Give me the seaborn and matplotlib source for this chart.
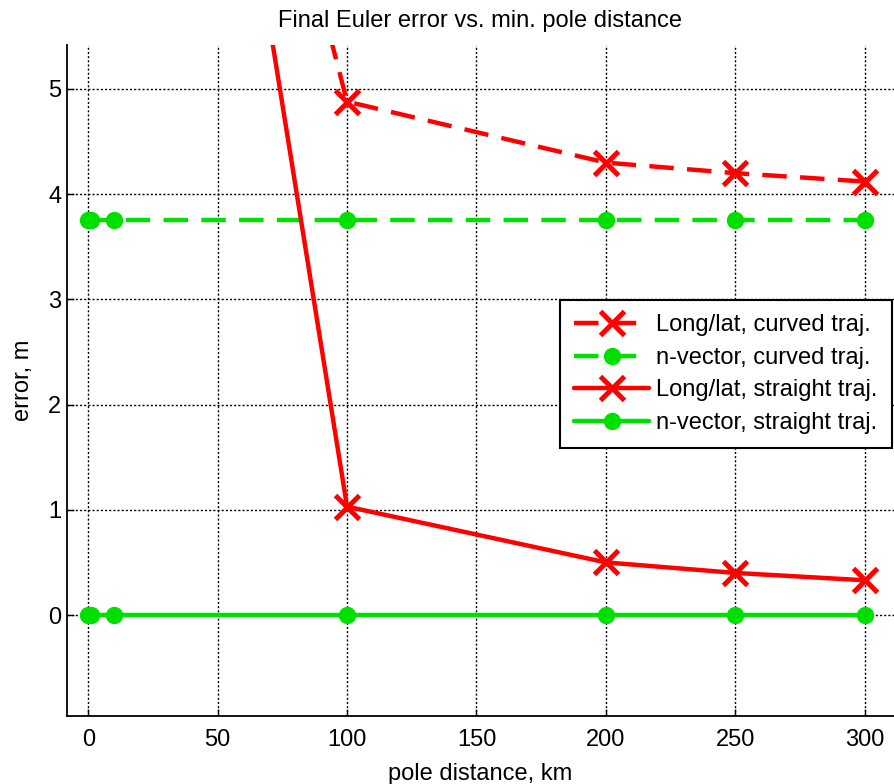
import numpy as np
import pandas as pd
import seaborn as sns
import matplotlib.pyplot as plt

# pole distance (km) and final error (m) for each run
dist = [0, 1, 10, 100, 200, 250, 300]
longlat_curved = [13.6, 13.5, 13.4, 4.88, 4.30, 4.20, 4.12]
nvec_curved = [3.75, 3.75, 3.75, 3.75, 3.75, 3.75, 3.75]
longlat_straight = [15.0, 14.9, 14.8, 1.03, 0.50, 0.40, 0.33]
nvec_straight = [0, 0, 0, 0, 0, 0, 0]

labels = [
    'Long/lat, curved traj.',
    'n-vector, curved traj.',
    'Long/lat, straight traj.',
    'n-vector, straight traj.',
]

red = '#ff0000'
green = '#00e000'
styles = {
    labels[0]: dict(color=red, linestyle=(0, (5.5, 3)), marker='x', markersize=17, markeredgewidth=3.6),
    labels[1]: dict(color=green, linestyle=(0, (5.5, 3)), marker='o', markersize=11.5, markeredgewidth=1),
    labels[2]: dict(color=red, linestyle='-', marker='x', markersize=17, markeredgewidth=3.6),
    labels[3]: dict(color=green, linestyle='-', marker='o', markersize=11.5, markeredgewidth=1),
}

df = pd.concat([
    pd.DataFrame({'pole distance, km': dist, 'error, m': vals, 'series': lab})
    for lab, vals in zip(labels, [longlat_curved, nvec_curved,
                                  longlat_straight, nvec_straight])
])

sns.set_style('white')
plt.rcParams['font.family'] = ['Liberation Sans', 'DejaVu Sans']
plt.rcParams['text.color'] = 'black'
plt.rcParams['axes.labelcolor'] = 'black'

fig = plt.figure(figsize=(8.94, 7.84), dpi=100)
ax = fig.add_axes([67 / 894, 1 - 716 / 784, 1 - 67 / 894, (716 - 45) / 784])

for lab in labels:
    st = styles[lab]
    sub = df[df['series'] == lab]
    sns.lineplot(
        data=sub, x='pole distance, km', y='error, m', ax=ax,
        label=lab, linewidth=3.2,
        markeredgecolor=st['color'], markerfacecolor=st['color'], **st,
    )

ax.set_xlim(-8.2, 311.3)
ax.set_ylim(-0.96, 5.418)
ax.set_xticks([0, 50, 100, 150, 200, 250, 300])
ax.set_yticks([0, 1, 2, 3, 4, 5])
ax.grid(True, color='black', linestyle=(0, (1.5, 1.5)), linewidth=1.0)
ax.tick_params(direction='in', length=5, width=1, labelsize=17,
               colors='black', bottom=True, left=True)
ax.tick_params(axis='x', pad=9)
ax.tick_params(axis='y', pad=4)
for s in ['top', 'right']:
    ax.spines[s].set_visible(False)
for s in ['left', 'bottom']:
    ax.spines[s].set_color('black')
    ax.spines[s].set_linewidth(1.3)

ax.set_xlabel('pole distance, km', fontsize=17, labelpad=9)
ax.set_ylabel('error, m', fontsize=17, labelpad=10)
ax.set_title('Final Euler error vs. min. pole distance', fontsize=17, pad=13)

leg = ax.legend(loc='upper right', bbox_to_anchor=((892 - 67) / 827, (716 - 300) / 671),
                fontsize=17, frameon=True, fancybox=False, edgecolor='black',
                framealpha=1, handlelength=3.2, labelspacing=0.45,
                borderpad=0.6, handletextpad=0.3, borderaxespad=0)
leg.get_frame().set_linewidth(1.5)

fig.savefig('out.png', dpi=100)
